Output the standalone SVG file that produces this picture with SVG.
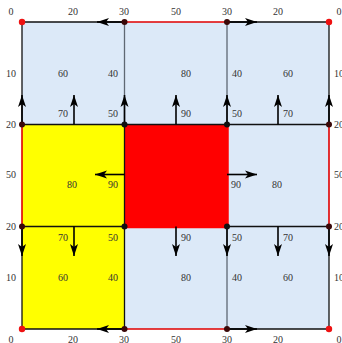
<svg xmlns="http://www.w3.org/2000/svg" width="342" height="343" viewBox="0 0 342 343">
<style>
.blue{fill:#dce9f8}
.yel{fill:#ffff00}
.red{fill:#ff0000}
.edge{stroke:#111;stroke-width:1.3;fill:none}
.inner{stroke:#5f6873;stroke-width:1.3;fill:none}
.redl{stroke:#e00000;stroke-width:1.6;fill:none}
.redt{stroke:#ff0000;stroke-width:3.5;fill:none}
.arr{stroke:#000;stroke-width:1.6;fill:none;marker-end:url(#ah)}
.dotc{fill:#ee1111}
.dotm{fill:#3a0808}
.dotb{fill:#111}
text{font-family:"Liberation Serif","Times New Roman",serif;font-size:10px;fill:#333;text-anchor:middle}
</style>
<defs>
<marker id="ah" viewBox="-12 -5 13 10" refX="0" refY="0" markerWidth="13" markerHeight="10" markerUnits="userSpaceOnUse" orient="auto">
<path d="M0,0 L-12,-4 L-9,0 L-12,4 Z" fill="#000"/>
</marker>
</defs>
<g id="cells">
<g id="c11"><rect class="blue" x="22" y="22" width="102.5" height="102.5"/></g>
<g id="c12"><rect class="blue" x="124.5" y="22" width="102.5" height="102.5"/></g>
<g id="c13"><rect class="blue" x="227" y="22" width="102" height="102.5"/></g>
<g id="c21"><rect class="yel" x="22" y="124.5" width="102.5" height="102"/></g>
<g id="c22"><rect class="red" x="124.5" y="124.5" width="102.5" height="102"/></g>
<g id="c23"><rect class="blue" x="227" y="124.5" width="102" height="102"/></g>
<g id="c31"><rect class="yel" x="22" y="226.5" width="102.5" height="102.5"/></g>
<g id="c32"><rect class="blue" x="124.5" y="226.5" width="102.5" height="102.5"/></g>
<g id="c33"><rect class="blue" x="227" y="226.5" width="102" height="102.5"/></g>
</g>
<g id="connectors">
<path class="inner" d="M124.5,22V124.5M227,22V124.5M227,226.5V329"/>
<path class="edge" d="M22,22H124.5M227,22H329M22,329H124.5M227,329H329M22,22V124.5M22,226.5V329M329,22V124.5M329,226.5V329M22,124.5H329M22,226.5H124.5M227,226.5H329M124.5,124.5V329"/>
<path class="redl" d="M124.5,22H227M124.5,329H227M22,124.5V226.5M329,124.5V226.5"/>
<path class="redt" d="M227,124.5V226.5M124.5,226.5H227"/>
<path class="arr" d="M22,124.5V95"/>
<path class="arr" d="M74,124.5V95"/>
<path class="arr" d="M124.5,124.5V95"/>
<path class="arr" d="M176,124.5V95"/>
<path class="arr" d="M227,124.5V95"/>
<path class="arr" d="M278,124.5V95"/>
<path class="arr" d="M329,124.5V95"/>
<path class="arr" d="M22,226.5V256"/>
<path class="arr" d="M74,226.5V256"/>
<path class="arr" d="M176,226.5V256"/>
<path class="arr" d="M227,226.5V256"/>
<path class="arr" d="M278,226.5V256"/>
<path class="arr" d="M329,226.5V256"/>
<path class="arr" d="M124.5,22H97"/>
<path class="arr" d="M227,22H257"/>
<path class="arr" d="M124.5,329H97"/>
<path class="arr" d="M227,329H257"/>
<path class="arr" d="M124.5,174.5H95"/>
<path class="arr" d="M227,174.5H257"/>
</g>
<g id="points">
<circle class="dotc" cx="22" cy="22" r="3.2"/>
<circle class="dotc" cx="329" cy="22" r="3.2"/>
<circle class="dotc" cx="22" cy="329" r="3.2"/>
<circle class="dotc" cx="329" cy="329" r="3.2"/>
<circle class="dotm" cx="124.5" cy="22" r="3"/>
<circle class="dotm" cx="227" cy="22" r="3"/>
<circle class="dotm" cx="124.5" cy="329" r="3"/>
<circle class="dotm" cx="227" cy="329" r="3"/>
<circle class="dotm" cx="22" cy="124.5" r="3"/>
<circle class="dotm" cx="22" cy="226.5" r="3"/>
<circle class="dotm" cx="329" cy="124.5" r="3"/>
<circle class="dotm" cx="329" cy="226.5" r="3"/>
<circle class="dotb" cx="124.5" cy="124.5" r="3"/>
<circle class="dotb" cx="227" cy="124.5" r="3"/>
<circle class="dotb" cx="124.5" cy="226.5" r="3"/>
<circle class="dotb" cx="227" cy="226.5" r="3"/>
</g>
<g id="labels">
<text x="11" y="14.5">0</text>
<text x="73" y="14.5">20</text>
<text x="124" y="14.5">30</text>
<text x="176" y="14.5">50</text>
<text x="227" y="14.5">30</text>
<text x="278" y="14.5">20</text>
<text x="339" y="14.5">0</text>
<text x="11" y="342.5">0</text>
<text x="73" y="342.5">20</text>
<text x="124" y="342.5">30</text>
<text x="176" y="342.5">50</text>
<text x="227" y="342.5">30</text>
<text x="278" y="342.5">20</text>
<text x="339" y="342.5">0</text>
<text x="11" y="76.5">10</text>
<text x="11" y="127.5">20</text>
<text x="11" y="177.5">50</text>
<text x="11" y="229.5">20</text>
<text x="11" y="280.5">10</text>
<text x="339" y="76.5">10</text>
<text x="339" y="127.5">20</text>
<text x="339" y="177.5">50</text>
<text x="339" y="229.5">20</text>
<text x="339" y="280.5">10</text>
<text x="63" y="76.5">60</text>
<text x="113" y="76.5">40</text>
<text x="63" y="117">70</text>
<text x="113" y="117">50</text>
<text x="186" y="76.5">80</text>
<text x="186" y="117">90</text>
<text x="237" y="76.5">40</text>
<text x="288" y="76.5">60</text>
<text x="237" y="117">50</text>
<text x="288" y="117">70</text>
<text x="72" y="187.5">80</text>
<text x="113" y="187.5">90</text>
<text x="236" y="187.5">90</text>
<text x="277" y="187.5">80</text>
<text x="63" y="240.5">70</text>
<text x="113" y="240.5">50</text>
<text x="63" y="280.5">60</text>
<text x="113" y="280.5">40</text>
<text x="186" y="240.5">90</text>
<text x="186" y="280.5">80</text>
<text x="237" y="240.5">50</text>
<text x="288" y="240.5">70</text>
<text x="237" y="280.5">40</text>
<text x="288" y="280.5">60</text>
</g>
</svg>
